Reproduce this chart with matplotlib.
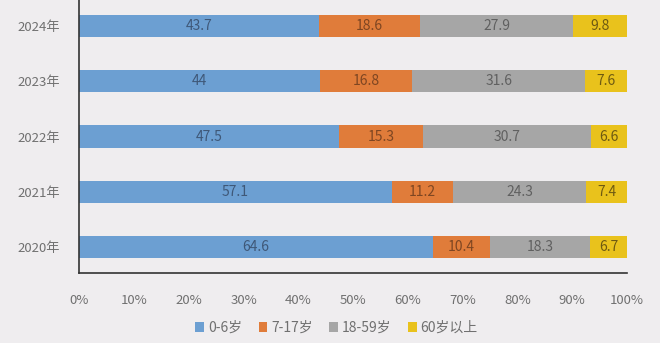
import matplotlib.pyplot as plt
import numpy as np

plt.rcParams['font.family'] = ['Noto Sans CJK SC', 'DejaVu Sans']

years = ['2020年', '2021年', '2022年', '2023年', '2024年']
age_groups = ['0-6岁', '7-17岁', '18-59岁', '60岁以上']
age_0_6 = [64.6, 57.1, 47.5, 44, 43.7]
age_7_17 = [10.4, 11.2, 15.3, 16.8, 18.6]
age_18_59 = [18.3, 24.3, 30.7, 31.6, 27.9]
age_60_up = [6.7, 7.4, 6.6, 7.6, 9.8]

colors = ['#6c9fd2', '#e07c3a', '#a6a6a6', '#e9c21c']
text_colors = ['#3f5878', '#7e4622', '#606060', '#6e5a12']
bg = '#efedef'

fig = plt.figure(figsize=(6.6, 3.43), dpi=100, facecolor=bg)
ax = fig.add_axes([0.12, 0.204, 0.83, 0.796], facecolor=bg)

y = np.arange(len(years))
left = np.zeros(len(years))
series = [age_0_6, age_7_17, age_18_59, age_60_up]
for vals, name, c, tc in zip(series, age_groups, colors, text_colors):
    vals = np.array(vals, dtype=float)
    bars = ax.barh(y, vals, left=left, height=0.4, color=c, label=name)
    ax.bar_label(bars, labels=[f'{v:g}' for v in vals], label_type='center',
                 fontsize=10, color=tc)
    left += vals

ax.set_xlim(0, 100)
ax.set_ylim(-0.47, 4.47)
ax.set_yticks(y)
ax.set_yticklabels(years)
ax.set_xticks(np.arange(0, 101, 10))
ax.set_xticklabels([f'{t}%' for t in range(0, 101, 10)])
ax.tick_params(axis='both', length=0, colors='#707070', labelsize=9.5)
ax.tick_params(axis='x', pad=15)
ax.tick_params(axis='y', pad=14)
for s in ['top', 'right']:
    ax.spines[s].set_visible(False)
ax.spines['left'].set_color('#333333')
ax.spines['bottom'].set_color('#333333')
ax.spines['left'].set_linewidth(1.2)
ax.spines['bottom'].set_linewidth(1.2)

fig.legend(loc='center', bbox_to_anchor=(0.51, 0.045), ncol=4, frameon=False,
           fontsize=10, handlelength=0.6, handleheight=0.7, handletextpad=0.3,
           columnspacing=1.2, labelcolor='#707070')

fig.savefig('out.png', dpi=100, facecolor=bg)
